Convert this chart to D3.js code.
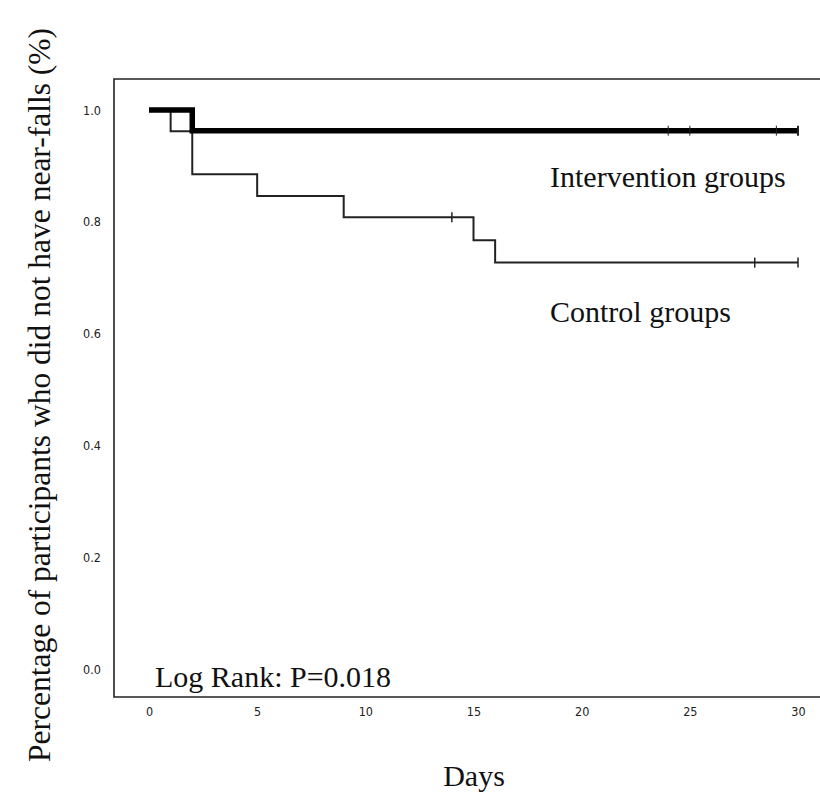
<!DOCTYPE html>
<html>
<head>
<meta charset="utf-8">
<script src="https://cdn.jsdelivr.net/npm/d3@7"></script>
<style>
  html, body { margin: 0; padding: 0; background: #fff; }
  svg { display: block; }
</style>
</head>
<body>
<svg id="chart" width="820" height="794"></svg>
<script>
// ---- Data ----
const controlTimes = [0, 1, 2, 5, 9, 15, 16, 30];
const controlSurv  = [1.0, 0.962, 0.885, 0.846, 0.808, 0.767, 0.727, 0.727];
const controlCensor = [14, 28, 30];

const interventionTimes = [0, 2, 30];
const interventionSurv  = [1.0, 0.963, 0.963];
const interventionCensor = [24, 25, 29, 30];

const xTickValues = [0, 5, 10, 15, 20, 25, 30];
const yTickValues = [0.0, 0.2, 0.4, 0.6, 0.8, 1.0];

const seriesLabels = ["Intervention groups", "Control groups"];
const statText = "Log Rank: P=0.018";
const xTitle = "Days";
const yTitle = "Percentage of participants who did not have near-falls (%)";

// ---- Layout ----
const svg = d3.select("#chart");
const frame = { left: 114, top: 79, right: 820, bottom: 697 };
const x = d3.scaleLinear().domain([0, 30]).range([149, 798]);
const y = d3.scaleLinear().domain([0, 1]).range([669, 110]);

const serif = "'Liberation Serif', 'Times New Roman', serif";
const narrow = "'Liberation Sans Narrow', 'DejaVu Sans Condensed', 'Liberation Sans', sans-serif";

// frame (left, top, bottom; no right border)
svg.append("path")
  .attr("d", `M${frame.right},${frame.top}H${frame.left}V${frame.bottom}H${frame.right}`)
  .attr("fill", "none").attr("stroke", "#222").attr("stroke-width", 1.6);

// axes (labels only, no tick marks)
const xAxis = svg.append("g").attr("transform", `translate(0,${frame.bottom})`)
  .call(d3.axisBottom(x).tickValues(xTickValues).tickSize(0).tickPadding(10).tickFormat(d3.format("d")));
const yAxis = svg.append("g").attr("transform", `translate(${frame.left - 13},0)`)
  .call(d3.axisLeft(y).tickValues(yTickValues).tickSize(0).tickPadding(0).tickFormat(d3.format(".1f")));
[xAxis, yAxis].forEach(g => {
  g.select(".domain").remove();
  g.selectAll("text").attr("font-family", narrow).attr("font-size", 12.5).attr("fill", "#222");
});

// survival step curves
const line = d3.line().x(d => x(d[0])).y(d => y(d[1])).curve(d3.curveStepAfter);
const controlData = controlTimes.map((t, i) => [t, controlSurv[i]]);
const interventionData = interventionTimes.map((t, i) => [t, interventionSurv[i]]);

function survAt(times, surv, t) {
  let v = surv[0];
  times.forEach((tt, i) => { if (tt <= t) v = surv[i]; });
  return v;
}

svg.append("path").datum(controlData).attr("d", line)
  .attr("fill", "none").attr("stroke", "#222").attr("stroke-width", 2);
svg.append("path").datum(interventionData).attr("d", line)
  .attr("fill", "none").attr("stroke", "#000").attr("stroke-width", 5.5);

// censor marks
svg.append("g").selectAll("line").data(controlCensor).join("line")
  .attr("x1", d => x(d)).attr("x2", d => x(d))
  .attr("y1", d => y(survAt(controlTimes, controlSurv, d)) - 5)
  .attr("y2", d => y(survAt(controlTimes, controlSurv, d)) + 5)
  .attr("stroke", "#222").attr("stroke-width", 1.5);
svg.append("g").selectAll("line").data(interventionCensor).join("line")
  .attr("x1", d => x(d)).attr("x2", d => x(d))
  .attr("y1", d => y(survAt(interventionTimes, interventionSurv, d)) - 5)
  .attr("y2", d => y(survAt(interventionTimes, interventionSurv, d)) + 5)
  .attr("stroke", "#222").attr("stroke-width", d => d === 30 ? 2 : 1);

// annotations
svg.append("text").attr("x", 550).attr("y", 187)
  .attr("font-family", serif).attr("font-size", 30).attr("fill", "#111")
  .text(seriesLabels[0]);
svg.append("text").attr("x", 550).attr("y", 322)
  .attr("font-family", serif).attr("font-size", 30).attr("fill", "#111")
  .text(seriesLabels[1]);
svg.append("text").attr("x", 155).attr("y", 687)
  .attr("font-family", serif).attr("font-size", 30).attr("fill", "#111")
  .text(statText);

// axis titles
svg.append("text").attr("x", 474).attr("y", 786).attr("text-anchor", "middle")
  .attr("font-family", serif).attr("font-size", 30).attr("fill", "#111")
  .text(xTitle);
svg.append("text").attr("transform", "translate(50,395) rotate(-90)").attr("text-anchor", "middle")
  .attr("font-family", serif).attr("font-size", 31.5).attr("fill", "#111")
  .text(yTitle);
</script>
</body>
</html>
